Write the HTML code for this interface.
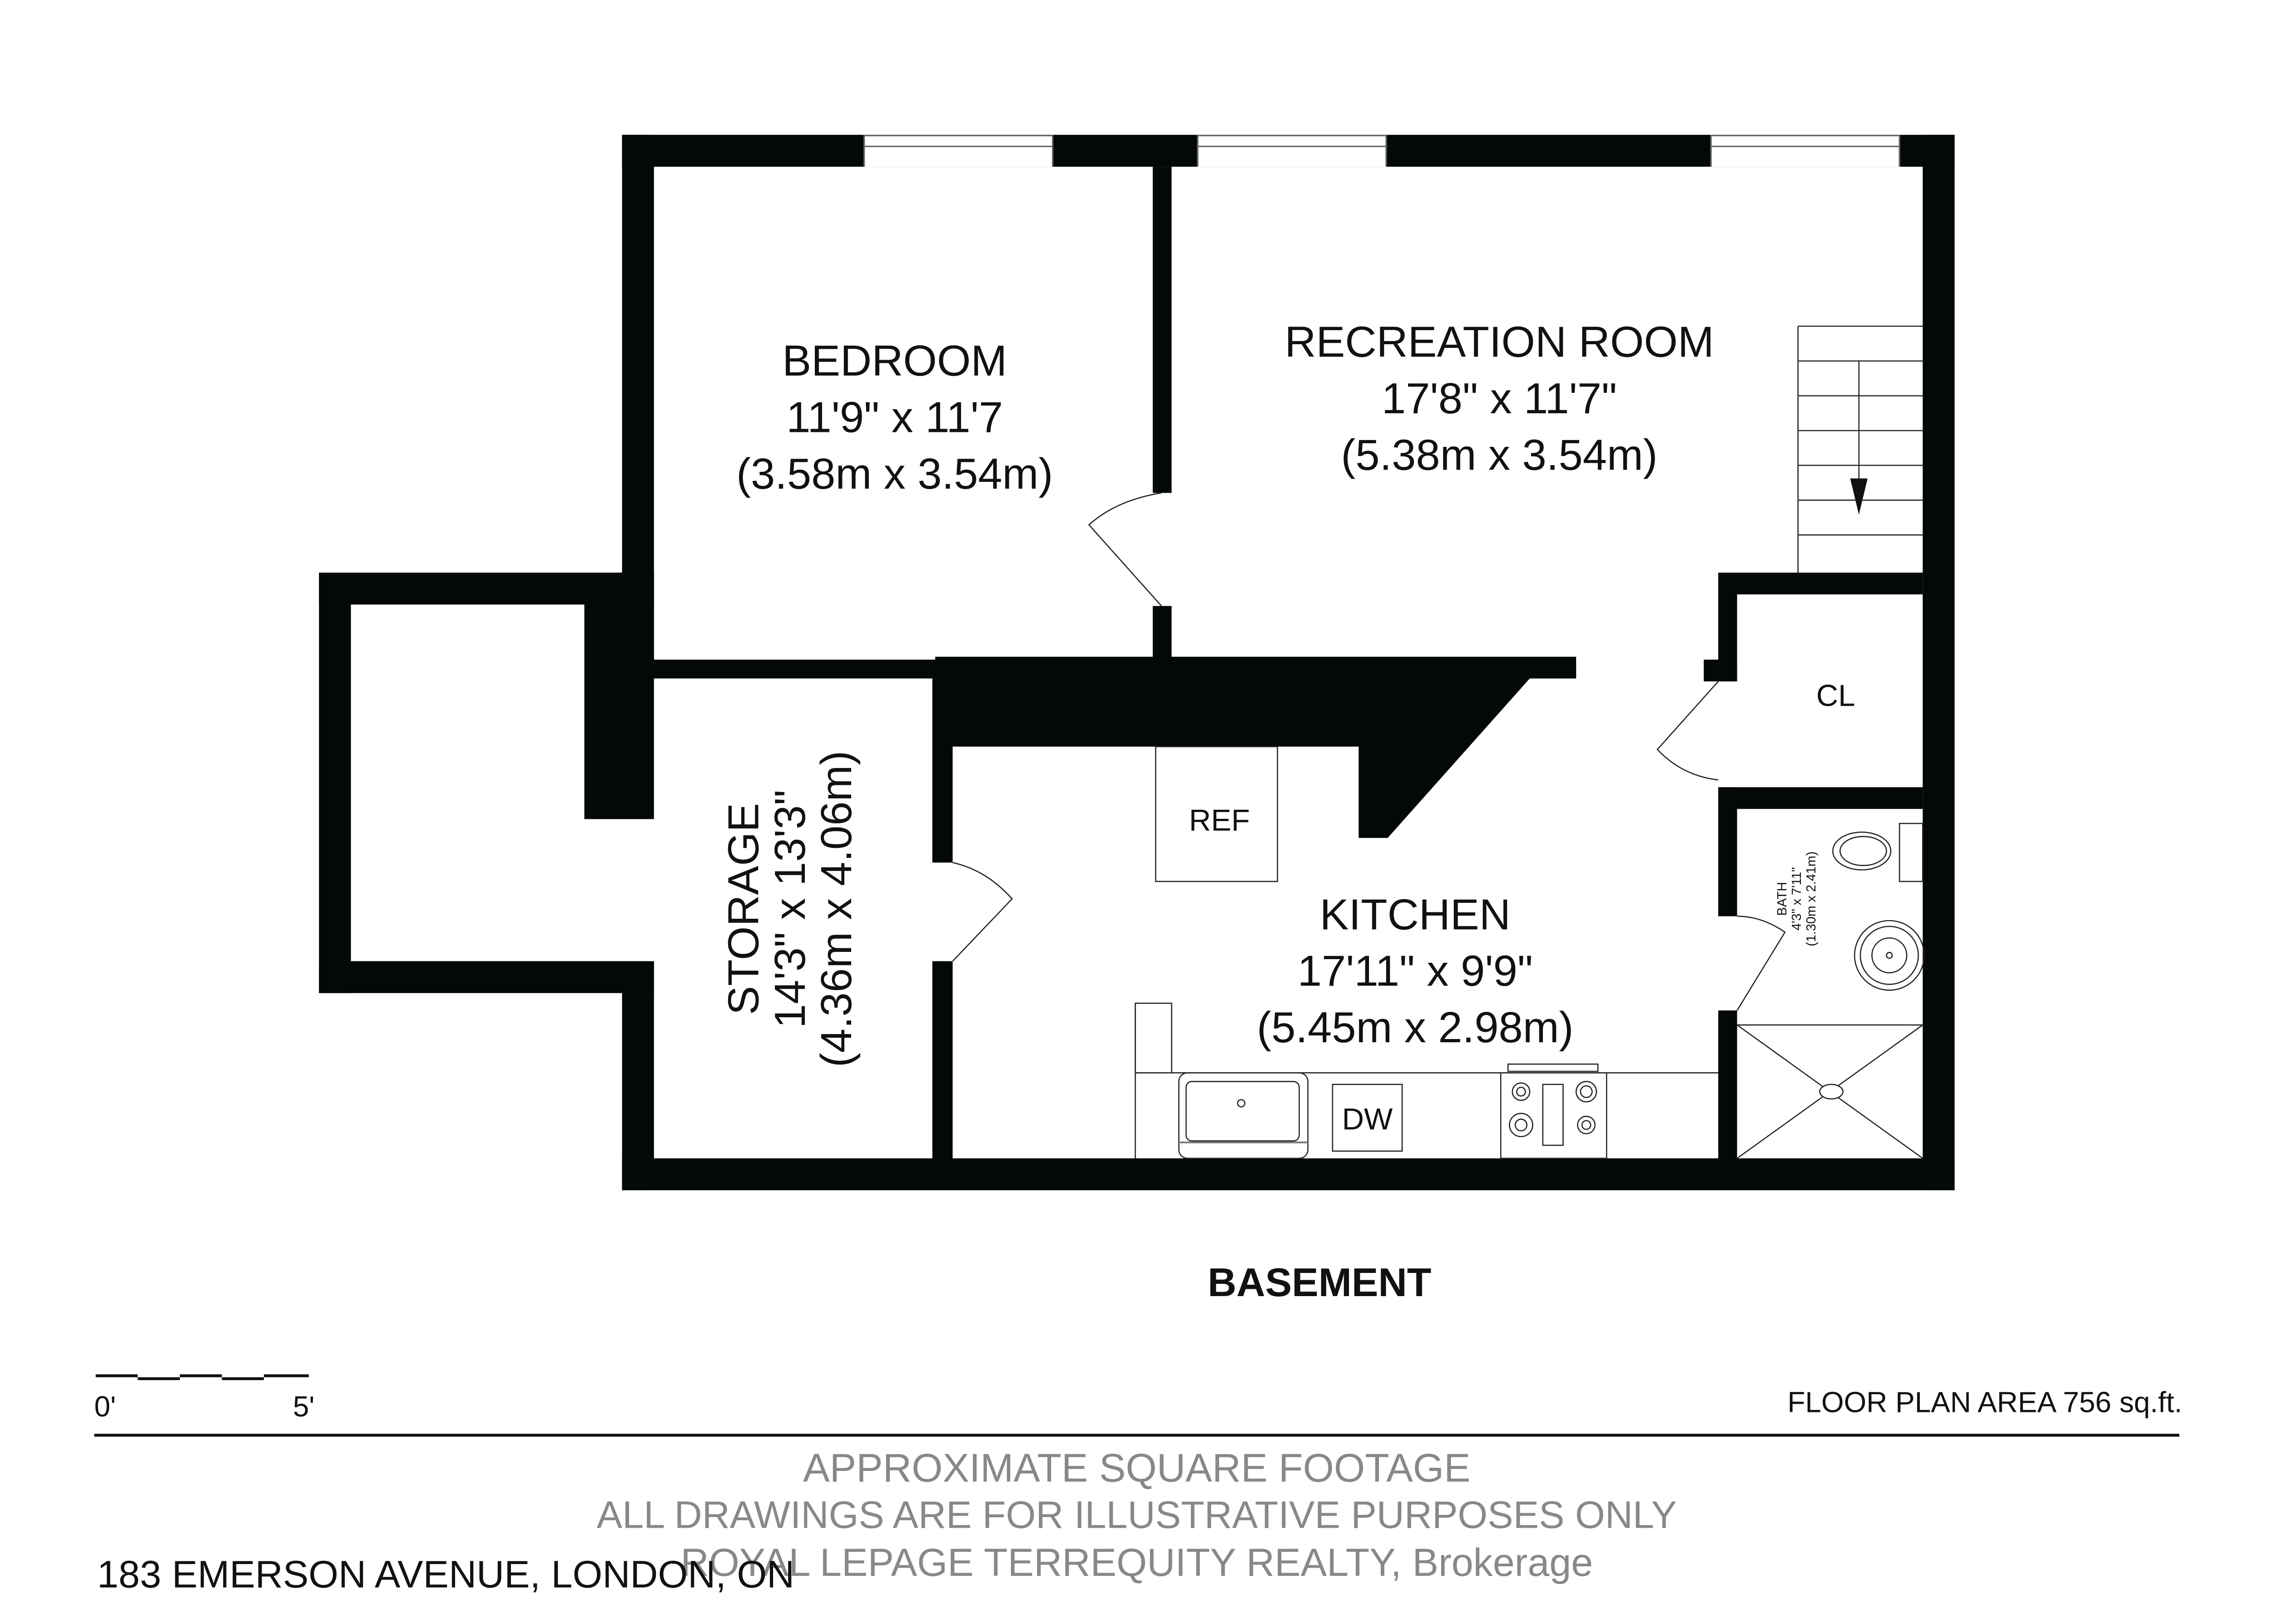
<!DOCTYPE html>
<html><head><meta charset="utf-8"><style>html,body{margin:0;padding:0;background:#fff}svg{display:block}</style></head>
<body>
<svg width="5060" height="3576" viewBox="0 0 1585 1120.2" preserveAspectRatio="none" xmlns="http://www.w3.org/2000/svg" font-family="Liberation Sans, sans-serif">
<rect width="1585" height="1120.2" fill="#fff"/>
<g fill="#040808">
<rect x="429" y="93" width="919" height="22"/>
<rect x="1326" y="93" width="22" height="728"/>
<rect x="429" y="799" width="919" height="22"/>
<rect x="429" y="93" width="22" height="375"/>
<rect x="220" y="395" width="231" height="22"/>
<rect x="220" y="395" width="22" height="290"/>
<rect x="220" y="663" width="231" height="22"/>
<rect x="403" y="395" width="48" height="170"/>
<rect x="429" y="663" width="22" height="158"/>
<rect x="429" y="455" width="230" height="13"/>
<polygon points="645,453 1087,453 1087,468 1055,468 957,578 937,578 937,515 657,515 657,595 643,595 643,468 645,468"/>
<rect x="643" y="663" width="14" height="140"/>
<rect x="795" y="115" width="13" height="225"/>
<rect x="795" y="418" width="13" height="37"/>
<rect x="1185" y="395" width="13" height="75"/>
<rect x="1175" y="455" width="23" height="15"/>
<rect x="1185" y="395" width="141" height="15"/>
<rect x="1185" y="543" width="141" height="15"/>
<rect x="1185" y="543" width="13" height="89"/>
<rect x="1185" y="697" width="13" height="105"/>
</g>
<g fill="#fff">
<rect x="596" y="93" width="130" height="22"/>
<rect x="826" y="93" width="130" height="22"/>
<rect x="1180" y="93" width="130" height="22"/>
</g>
<g stroke="#666" stroke-width="1" fill="none">
<line x1="596" y1="93.5" x2="726" y2="93.5"/><line x1="596" y1="101" x2="726" y2="101"/>
<line x1="826" y1="93.5" x2="956" y2="93.5"/><line x1="826" y1="101" x2="956" y2="101"/>
<line x1="1180" y1="93.5" x2="1310" y2="93.5"/><line x1="1180" y1="101" x2="1310" y2="101"/>
<line x1="596" y1="93" x2="596" y2="115"/><line x1="726" y1="93" x2="726" y2="115"/>
<line x1="826" y1="93" x2="826" y2="115"/><line x1="956" y1="93" x2="956" y2="115"/>
<line x1="1180" y1="93" x2="1180" y2="115"/><line x1="1310" y1="93" x2="1310" y2="115"/>
</g>
<g stroke="#222" stroke-width="0.8" fill="none">
<path d="M801,418 L751,362 Q770,345 801,340"/>
<path d="M1185,470 L1143,517 Q1160,535 1185,538"/>
<path d="M1198,697 L1231,643 Q1215,632 1198,632"/>
<path d="M657,663 L698,620 Q680,600 657,595"/>
<line x1="1240" y1="225" x2="1240" y2="395"/>
<line x1="1240" y1="225" x2="1326" y2="225"/>
<line x1="1240" y1="249" x2="1326" y2="249"/>
<line x1="1240" y1="273" x2="1326" y2="273"/>
<line x1="1240" y1="297" x2="1326" y2="297"/>
<line x1="1240" y1="321" x2="1326" y2="321"/>
<line x1="1240" y1="345" x2="1326" y2="345"/>
<line x1="1240" y1="369" x2="1326" y2="369"/>
<line x1="1282" y1="249" x2="1282" y2="340"/>
<rect x="797" y="515" width="84" height="93"/>
<line x1="783" y1="740" x2="1185" y2="740"/>
<line x1="783" y1="692" x2="783" y2="799"/>
<rect x="783" y="692" width="25" height="48"/>
<rect x="813" y="740" width="89" height="59" rx="6"/>
<rect x="818" y="746" width="78" height="41" rx="4"/>
<circle cx="856" cy="761" r="2.5"/>
<line x1="813" y1="788" x2="902" y2="788" stroke="#777" stroke-width="1.2"/>
<rect x="919" y="748" width="48" height="46"/>
<rect x="1035" y="740" width="73" height="59"/>
<rect x="1040" y="734" width="62" height="5"/>
<rect x="1064" y="748" width="14" height="42"/>
<circle cx="1049" cy="753" r="6"/><circle cx="1049" cy="753" r="3"/>
<circle cx="1094" cy="753" r="7"/><circle cx="1094" cy="753" r="4"/>
<circle cx="1049" cy="776" r="8"/><circle cx="1049" cy="776" r="4"/>
<circle cx="1094" cy="776" r="6"/><circle cx="1094" cy="776" r="3"/>
<line x1="1198" y1="707" x2="1326" y2="707"/>
<line x1="1198" y1="707" x2="1326" y2="799"/>
<line x1="1326" y1="707" x2="1198" y2="799"/>
<ellipse cx="1263" cy="753" rx="8" ry="5" fill="#fff"/>
<ellipse cx="1284" cy="587" rx="20" ry="13"/>
<ellipse cx="1285" cy="587" rx="16" ry="10"/>
<rect x="1310" y="568" width="16" height="40"/>
<circle cx="1303" cy="659" r="24"/><circle cx="1303" cy="659" r="20"/>
<circle cx="1303" cy="659" r="12"/><circle cx="1303" cy="659" r="2"/>
<line x1="65" y1="990" x2="1503" y2="990" stroke="#111" stroke-width="2"/>
</g>
<polygon points="1276,330 1288,330 1282,355" fill="#111"/>
<g stroke="#111" stroke-width="2">
<line x1="66" y1="949" x2="95" y2="949"/><line x1="95" y1="951" x2="124" y2="951"/>
<line x1="124" y1="949" x2="153" y2="949"/><line x1="153" y1="951" x2="182" y2="951"/>
<line x1="182" y1="949" x2="213" y2="949"/>
</g>
<g fill="#111" font-size="30" text-anchor="middle">
<text x="617" y="259">BEDROOM</text>
<text x="617" y="298">11'9" x 11'7</text>
<text x="617" y="337">(3.58m x 3.54m)</text>
<text x="1034" y="246">RECREATION ROOM</text>
<text x="1034" y="285">17'8" x 11'7"</text>
<text x="1034" y="324">(5.38m x 3.54m)</text>
<text x="976" y="641">KITCHEN</text>
<text x="976" y="680">17'11" x 9'9"</text>
<text x="976" y="719">(5.45m x 2.98m)</text>
<g transform="translate(545,627) rotate(-90)">
<text x="0" y="-22">STORAGE</text>
<text x="0" y="10">14'3" x 13'3"</text>
<text x="0" y="42">(4.36m x 4.06m)</text>
</g>
<text x="1266" y="487" font-size="21">CL</text>
<text x="841" y="573" font-size="21">REF</text>
<text x="943" y="779" font-size="21">DW</text>
<g transform="translate(1232,620) rotate(-90)" font-size="9">
<text x="0" y="0">BATH</text><text x="0" y="10">4'3" x 7'11"</text><text x="0" y="20">(1.30m x 2.41m)</text>
</g>
<text x="910" y="894" font-size="27.5" font-weight="bold">BASEMENT</text>
<g fill="#888">
<text x="784" y="1022" font-size="27.5">APPROXIMATE SQUARE FOOTAGE</text>
<text x="784" y="1054" font-size="26.5">ALL DRAWINGS ARE FOR ILLUSTRATIVE PURPOSES ONLY</text>
<text x="784" y="1087" font-size="27">ROYAL LEPAGE TERREQUITY REALTY, Brokerage</text>
</g>
</g>
<g fill="#111" font-size="20">
<text x="65" y="977">0'</text>
<text x="202" y="977">5'</text>
<text x="1505" y="974" text-anchor="end" font-size="20">FLOOR PLAN AREA 756 sq.ft.</text>
<text x="67" y="1095" font-size="26.5">183 EMERSON AVENUE, LONDON, ON</text>
</g>
</svg>
</body></html>
